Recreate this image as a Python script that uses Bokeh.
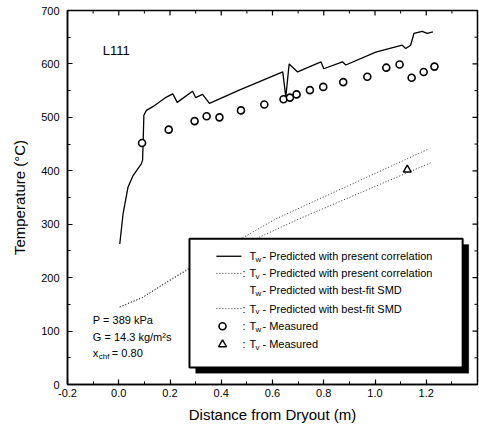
import numpy as np
from bokeh.plotting import figure
from bokeh.models import (Range1d, SingleIntervalTicker, PrintfTickFormatter,
                          Label, BoxAnnotation)
from bokeh.embed import file_html
from bokeh.resources import INLINE

# ---------------- data ----------------
tw_pred_x = [0.004, 0.017, 0.036, 0.056, 0.088, 0.093, 0.095, 0.098, 0.108, 0.133, 0.186,
             0.211, 0.228, 0.288, 0.300, 0.327, 0.354, 0.470, 0.640, 0.652, 0.665, 0.698,
             0.789, 0.800, 0.873, 0.886, 1.003, 1.106, 1.120, 1.139, 1.152, 1.184, 1.204, 1.226]
tw_pred_y = [263, 320, 369, 391, 413, 420, 450, 504, 513, 520, 538,
             544, 528, 549, 537, 543, 526, 551, 585, 538, 600, 585,
             604, 591, 604, 598, 622, 635, 629, 635, 657, 661, 657, 660]

tv_pres_x = [0.004, 0.093, 0.187, 0.264, 0.500, 0.613, 1.210]
tv_pres_y = [145, 163, 192, 215, 279, 310, 441]

tv_smd_x = [0.004, 0.093, 0.187, 0.264, 0.500, 0.704, 1.217]
tv_smd_y = [145, 163, 191, 213, 265, 310, 415]

tw_meas_x = [0.091, 0.195, 0.296, 0.343, 0.393, 0.477, 0.568, 0.643, 0.668, 0.694,
             0.746, 0.798, 0.876, 0.970, 1.044, 1.096, 1.143, 1.190, 1.232]
tw_meas_y = [452, 477, 493, 502, 500, 513, 524, 534, 537, 543,
             551, 557, 566, 576, 593, 599, 574, 585, 595]

tv_meas_x = [1.126]
tv_meas_y = [402]

X_MIN, X_MAX, X_STEP = -0.2, 1.4, 0.2
Y_MIN, Y_MAX, Y_STEP = 0, 700, 100

FONT = "Liberation Sans"

p = figure(width=479, height=427, x_range=Range1d(X_MIN, X_MAX), y_range=Range1d(Y_MIN, Y_MAX),
           output_backend="svg", toolbar_location=None,
           min_border_left=67, min_border_right=2, min_border_top=10, min_border_bottom=43,
           x_axis_label="Distance from Dryout (m)", y_axis_label="Temperature (°C)")
p.xgrid.visible = False
p.ygrid.visible = False
p.outline_line_color = "black"
p.outline_line_width = 1.5
p.background_fill_color = "white"

xax = p.xaxis[0]
yax = p.yaxis[0]
xax.ticker = SingleIntervalTicker(interval=X_STEP, num_minor_ticks=2)
yax.ticker = SingleIntervalTicker(interval=Y_STEP, num_minor_ticks=2)
xax.formatter = PrintfTickFormatter(format="%.1f")

for ax in [xax, yax]:
    ax.major_tick_in = 5
    ax.major_tick_out = 0
    ax.minor_tick_in = 3
    ax.minor_tick_out = 0
    ax.axis_line_width = 1.5
    ax.axis_line_color = "black"
    ax.major_tick_line_color = "black"
    ax.minor_tick_line_color = "black"
    ax.major_tick_line_width = 1.2
    ax.minor_tick_line_width = 1.0
    ax.major_label_text_font = FONT
    ax.major_label_text_color = "black"
    ax.major_label_text_font_size = "11px"
    ax.axis_label_text_font = FONT
    ax.axis_label_text_font_style = "normal"
    ax.axis_label_text_color = "black"
    ax.axis_label_text_font_size = "15px"

xax.major_label_standoff = 4
yax.major_label_standoff = 8
xax.axis_label_standoff = 6
yax.axis_label_standoff = 10

# inward ticks on the top and right frame edges (half of each dash is clipped by the frame)
top_major = np.arange(X_MIN, X_MAX + 1e-9, X_STEP)
top_minor = np.arange(X_MIN + X_STEP / 2, X_MAX, X_STEP)
right_major = np.arange(Y_MIN, Y_MAX + 1e-9, Y_STEP)
right_minor = np.arange(Y_MIN + Y_STEP / 2, Y_MAX, Y_STEP)
p.scatter(top_major, [Y_MAX] * len(top_major), marker="dash", angle=np.pi / 2, size=10,
          line_color="black", line_width=1.2)
p.scatter(top_minor, [Y_MAX] * len(top_minor), marker="dash", angle=np.pi / 2, size=6,
          line_color="black", line_width=1.0)
p.scatter([X_MAX] * len(right_major), right_major, marker="dash", size=10,
          line_color="black", line_width=1.2)
p.scatter([X_MAX] * len(right_minor), right_minor, marker="dash", size=6,
          line_color="black", line_width=1.0)

# ---------------- data marks ----------------
p.line(tw_pred_x, tw_pred_y, line_color="black", line_width=1.3)
p.line(tv_pres_x, tv_pres_y, line_color="#333333", line_width=1, line_dash="1 2")
p.line(tv_smd_x, tv_smd_y, line_color="#333333", line_width=1, line_dash="1 2")
p.scatter(tw_meas_x, tw_meas_y, marker="circle", size=7, line_color="black",
          line_width=1.6, fill_color="white")
p.scatter(tv_meas_x, tv_meas_y, marker="triangle", size=8, line_color="black",
          line_width=1.4, fill_color="white")

# ---------------- annotations ----------------
def lab(x, y, text, size=11, x_off=0, y_off=0, baseline="middle"):
    p.add_layout(Label(x=x, y=y, text=text, text_font=FONT, text_font_size=f"{size}px",
                       text_baseline=baseline, text_color="black", x_offset=x_off,
                       y_offset=y_off, level="overlay"))

lab(-0.062, 626, "L111", size=13)
lab(-0.101, 120, "P = 389 kPa")
lab(-0.101, 89, "G = 14.3 kg/m²s")
lab(-0.101, 59, "x")
lab(-0.101, 59, "chf", size=8, x_off=6, y_off=-4)
lab(-0.101, 59, " = 0.80", x_off=19)

# legend box with shadow
LEG_L, LEG_R, LEG_T, LEG_B = 0.276, 1.342, 273, 32
SH_DX, SH_DY = 0.024, 11
p.add_layout(BoxAnnotation(left=LEG_L + SH_DX, right=LEG_R + SH_DX, top=LEG_T - SH_DY,
                           bottom=LEG_B - SH_DY, fill_color="black", fill_alpha=1,
                           line_color="black"))
p.add_layout(BoxAnnotation(left=LEG_L, right=LEG_R, top=LEG_T, bottom=LEG_B,
                           fill_color="white", fill_alpha=1, line_color="black",
                           line_width=2, line_alpha=1))

rows_y = [240, 208, 176, 142, 109, 75]
samp_x0, samp_x1, mark_x, text_x = 0.381, 0.479, 0.405, 0.51
legend_rows = [
    ("solid", "", "w", " - Predicted with present correlation"),
    ("dot", ":", "v", " - Predicted with present correlation"),
    ("none", "", "w", " - Predicted with best-fit SMD"),
    ("dot", ":", "v", " - Predicted with best-fit SMD"),
    ("circle", ":", "w", " - Measured"),
    ("triangle", ":", "v", " - Measured"),
]
for ry, (kind, colon, sub, rest) in zip(rows_y, legend_rows):
    r = None
    if kind == "solid":
        r = p.segment(x0=[samp_x0], y0=[ry], x1=[samp_x1], y1=[ry], line_color="black",
                      line_width=1.3)
    elif kind == "dot":
        r = p.segment(x0=[samp_x0], y0=[ry], x1=[samp_x1], y1=[ry], line_color="#333333",
                      line_width=1, line_dash="1 2")
    elif kind == "circle":
        r = p.scatter([mark_x], [ry], marker="circle", size=7, line_color="black",
                      line_width=1.6, fill_color="white")
    elif kind == "triangle":
        r = p.scatter([mark_x], [ry], marker="triangle", size=8, line_color="black",
                      line_width=1.4, fill_color="white")
    if r is not None:
        r.level = "overlay"
    if colon:
        lab(text_x, ry, ":", x_off=-7)
    lab(text_x, ry, "T")
    lab(text_x, ry, sub, size=8, x_off=6, y_off=-3)
    lab(text_x, ry, rest, x_off=13)

open("out.html", "w").write(file_html(p, INLINE))
